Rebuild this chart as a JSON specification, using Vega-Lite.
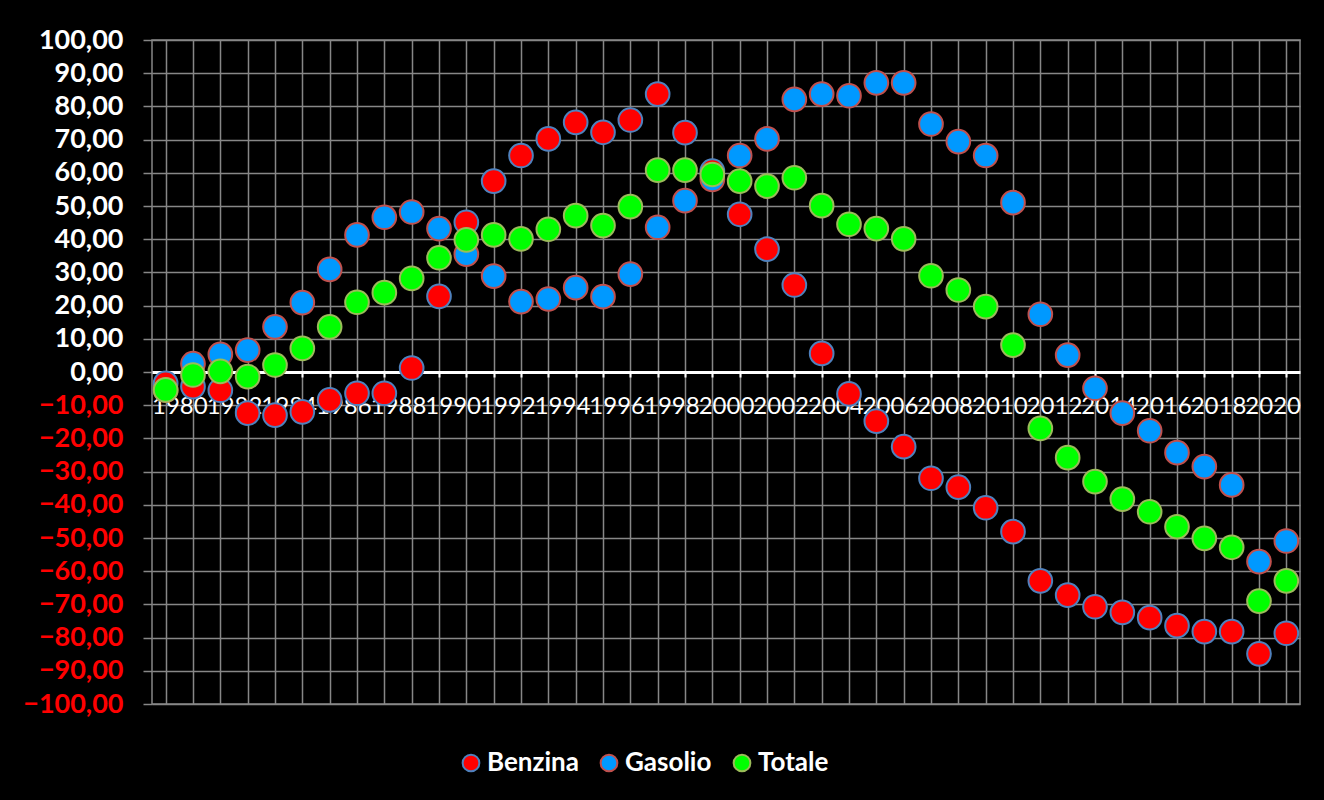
{
  "$schema": "https://vega.github.io/schema/vega-lite/v6.json",
  "width": 1148,
  "height": 664,
  "autosize": {"type": "none"},
  "padding": {"left": 152, "top": 40, "right": 24, "bottom": 96},
  "background": "black",
  "config": {"view": {"stroke": "#878787", "strokeWidth": 1.5}},
  "data": {"values": [
    {"year": 1980, "Benzina": -3.4, "Gasolio": -5.5, "Totale": -5.4},
    {"year": 1981, "Benzina": -4.4, "Gasolio": 2.5, "Totale": -0.9},
    {"year": 1982, "Benzina": -5.5, "Gasolio": 5.3, "Totale": 0.2},
    {"year": 1983, "Benzina": -12.4, "Gasolio": 6.6, "Totale": -1.4},
    {"year": 1984, "Benzina": -13.0, "Gasolio": 13.6, "Totale": 2.1},
    {"year": 1985, "Benzina": -12.0, "Gasolio": 20.9, "Totale": 7.1},
    {"year": 1986, "Benzina": -8.4, "Gasolio": 30.9, "Totale": 13.6},
    {"year": 1987, "Benzina": -6.4, "Gasolio": 41.3, "Totale": 21.0},
    {"year": 1988, "Benzina": -6.4, "Gasolio": 46.6, "Totale": 23.9},
    {"year": 1989, "Benzina": 1.2, "Gasolio": 48.2, "Totale": 28.2},
    {"year": 1990, "Benzina": 22.8, "Gasolio": 43.2, "Totale": 34.4},
    {"year": 1991, "Benzina": 45.1, "Gasolio": 35.5, "Totale": 39.8},
    {"year": 1992, "Benzina": 57.5, "Gasolio": 28.9, "Totale": 41.3},
    {"year": 1993, "Benzina": 65.2, "Gasolio": 21.2, "Totale": 40.1},
    {"year": 1994, "Benzina": 70.2, "Gasolio": 22.0, "Totale": 43.0},
    {"year": 1995, "Benzina": 75.2, "Gasolio": 25.4, "Totale": 47.1},
    {"year": 1996, "Benzina": 72.2, "Gasolio": 22.7, "Totale": 44.1},
    {"year": 1997, "Benzina": 75.9, "Gasolio": 29.5, "Totale": 49.8},
    {"year": 1998, "Benzina": 83.7, "Gasolio": 43.6, "Totale": 60.8},
    {"year": 1999, "Benzina": 72.1, "Gasolio": 51.6, "Totale": 60.8},
    {"year": 2000, "Benzina": 60.5, "Gasolio": 58.0, "Totale": 59.5},
    {"year": 2001, "Benzina": 47.5, "Gasolio": 65.2, "Totale": 57.5},
    {"year": 2002, "Benzina": 37.0, "Gasolio": 70.2, "Totale": 56.0},
    {"year": 2003, "Benzina": 26.2, "Gasolio": 82.1, "Totale": 58.5},
    {"year": 2004, "Benzina": 5.6, "Gasolio": 83.7, "Totale": 50.1},
    {"year": 2005, "Benzina": -6.6, "Gasolio": 83.2, "Totale": 44.5},
    {"year": 2006, "Benzina": -14.8, "Gasolio": 87.1, "Totale": 43.2},
    {"year": 2007, "Benzina": -22.5, "Gasolio": 87.1, "Totale": 40.1},
    {"year": 2008, "Benzina": -32.0, "Gasolio": 74.7, "Totale": 29.0},
    {"year": 2009, "Benzina": -34.7, "Gasolio": 69.4, "Totale": 24.7},
    {"year": 2010, "Benzina": -40.9, "Gasolio": 65.2, "Totale": 19.7},
    {"year": 2011, "Benzina": -48.1, "Gasolio": 51.0, "Totale": 8.1},
    {"year": 2012, "Benzina": -62.9, "Gasolio": 17.4, "Totale": -17.0},
    {"year": 2013, "Benzina": -67.2, "Gasolio": 5.1, "Totale": -25.8},
    {"year": 2014, "Benzina": -70.7, "Gasolio": -4.9, "Totale": -33.0},
    {"year": 2015, "Benzina": -72.4, "Gasolio": -12.4, "Totale": -38.3},
    {"year": 2016, "Benzina": -74.0, "Gasolio": -17.7, "Totale": -42.1},
    {"year": 2017, "Benzina": -76.4, "Gasolio": -24.3, "Totale": -46.6},
    {"year": 2018, "Benzina": -78.2, "Gasolio": -28.5, "Totale": -50.1},
    {"year": 2019, "Benzina": -78.2, "Gasolio": -34.0, "Totale": -52.8},
    {"year": 2020, "Benzina": -84.9, "Gasolio": -57.1, "Totale": -69.0},
    {"year": 2021, "Benzina": -78.7, "Gasolio": -50.9, "Totale": -62.9}
  ]},
  "transform": [{"fold": ["Benzina", "Gasolio", "Totale"], "as": ["serie", "valore"]}],
  "mark": {"type": "circle", "size": 560, "strokeWidth": 2, "opacity": 1},
  "encoding": {
    "x": {
      "field": "year", "type": "ordinal",
      "scale": {"paddingInner": 0, "paddingOuter": 0},
      "axis": {
        "title": null, "bandPosition": 0, "labelOffset": 13.67, "offset": -332,
        "domainColor": "white", "domainWidth": 3,
        "tickColor": "white", "tickWidth": 2, "tickSize": 5,
        "labelColor": "white", "labelFont": "Lato", "labelFontSize": 24, "labelAngle": 0,
        "labelPadding": 17, "labelOverlap": false, "labelBound": false,
        "labelExpr": "datum.value % 2 == 0 ? datum.label : ''",
        "grid": true, "gridColor": "#878787", "gridWidth": 1.5
      }
    },
    "y": {
      "field": "valore", "type": "quantitative",
      "scale": {"domain": [-100, 100]},
      "axis": {
        "title": null,
        "values": [-100, -90, -80, -70, -60, -50, -40, -30, -20, -10, 0, 10, 20, 30, 40, 50, 60, 70, 80, 90, 100],
        "labelExpr": "replace(format(datum.value, '.2f'), '.', ',')",
        "labelColor": {"condition": {"test": "datum.value < 0", "value": "#FF0000"}, "value": "white"},
        "labelFont": "Lato", "labelFontWeight": "bold", "labelFontSize": 27, "labelPadding": 20,
        "tickColor": "#878787", "tickSize": 9, "tickWidth": 1.5,
        "domain": false,
        "grid": true, "gridColor": "#878787", "gridWidth": 1.5
      }
    },
    "fill": {
      "field": "serie", "type": "nominal",
      "scale": {"domain": ["Benzina", "Gasolio", "Totale"], "range": ["#FF0000", "#0099FF", "#00FF00"]},
      "legend": {"title": null, "orient": "none", "legendX": 306, "legendY": 710, "direction": "horizontal",
        "labelColor": "white", "labelFont": "Lato", "labelFontWeight": "bold", "labelFontSize": 26,
        "symbolSize": 280, "symbolStrokeWidth": 2, "symbolType": "circle", "labelOffset": 3, "columnPadding": 17}
    },
    "stroke": {
      "field": "serie", "type": "nominal",
      "scale": {"domain": ["Benzina", "Gasolio", "Totale"], "range": ["#4F81BD", "#C0504D", "#9BBB59"]},
      "legend": {"title": null, "orient": "none", "legendX": 306, "legendY": 710, "direction": "horizontal",
        "labelColor": "white", "labelFont": "Lato", "labelFontWeight": "bold", "labelFontSize": 26,
        "symbolSize": 280, "symbolStrokeWidth": 2, "symbolType": "circle", "labelOffset": 3, "columnPadding": 17}
    },
    "order": {"field": "serie"}
  }
}
